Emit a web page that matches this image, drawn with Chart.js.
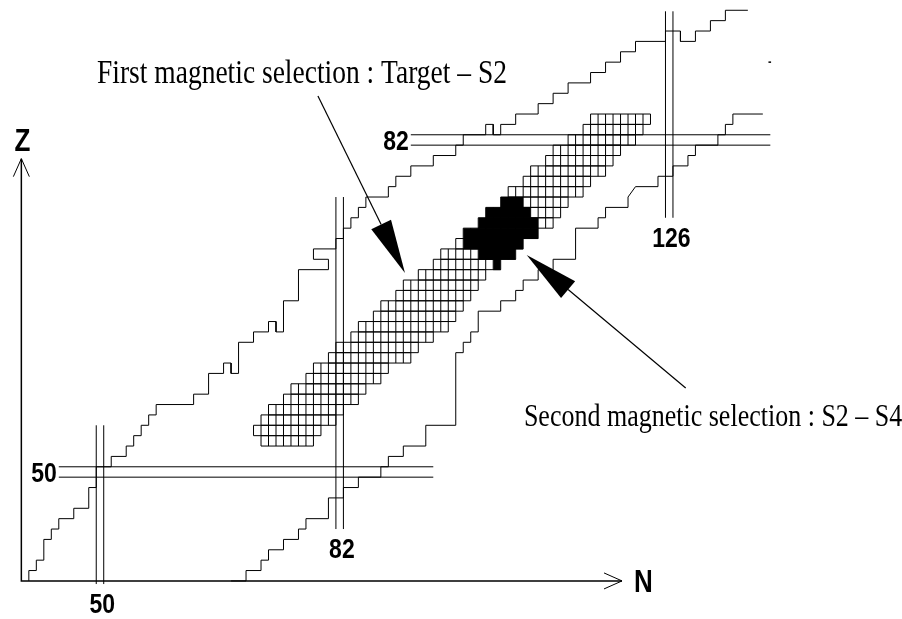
<!DOCTYPE html>
<html>
<head>
<meta charset="utf-8">
<title>Magnetic selections on the N-Z chart</title>
<script src="https://cdn.jsdelivr.net/npm/chart.js@4.4.0/dist/chart.umd.min.js"></script>
<style>
  html, body { margin: 0; padding: 0; background: #fff; }
</style>
</head>
<body>
<canvas id="myChart" width="902" height="619"></canvas>
<script>
// corner points [N, Z] of the two staircase limits
const upperLimit = [
    [40.5, 39.5], [40.5, 40.5], [41.5, 40.5], [41.5, 41.5], [42.5, 41.5], [42.5, 43.5],
    [43.5, 43.5], [43.5, 44.5], [44.5, 44.5], [44.5, 45.5], [46.5, 45.5], [46.5, 46.5],
    [48.5, 46.5], [48.5, 48.5], [49.5, 48.5], [49.5, 50.5], [51.5, 50.5], [51.5, 51.5],
    [53.5, 51.5], [53.5, 52.5], [54.5, 52.5], [54.5, 53.5], [55.5, 53.5], [55.5, 54.5],
    [56.5, 54.5], [56.5, 55.5], [57.5, 55.5], [57.5, 56.5], [62.5, 56.5], [62.5, 57.5],
    [64.5, 57.5], [64.5, 59.5], [66.5, 59.5], [66.5, 60.5], [67.5, 60.5], [67.5, 59.5],
    [68.5, 59.5], [68.5, 62.5], [70.5, 62.5], [70.5, 63.5], [72.5, 63.5], [72.5, 64.5],
    [73.5, 64.5], [73.5, 63.5], [74.5, 63.5], [74.5, 66.5], [76.5, 66.5], [76.5, 69.5],
    [80.5, 69.5], [80.5, 70.5], [78.5, 70.5], [78.5, 71.5], [81.5, 71.5], [81.5, 72.5],
    [82.5, 72.5], [82.5, 73.5], [83.5, 73.5], [83.5, 74.5], [84.5, 74.5], [84.5, 75.5],
    [85.5, 75.5], [85.5, 76.5], [88.5, 76.5], [88.5, 77.5], [89.5, 77.5], [89.5, 78.5],
    [91.5, 78.5], [91.5, 79.5], [94.5, 79.5], [94.5, 80.5], [97.5, 80.5], [97.5, 81.5],
    [98.5, 81.5], [98.5, 82.5], [101.5, 82.5], [101.5, 83.5], [102.5, 83.5], [102.5, 82.5],
    [103.5, 82.5], [103.5, 83.5], [105.5, 83.5], [105.5, 84.5], [108.5, 84.5], [108.5, 85.5],
    [110.5, 85.5], [110.5, 86.5], [112.5, 86.5], [112.5, 87.5], [115.5, 87.5], [115.5, 88.5],
    [117.5, 88.5], [117.5, 89.5], [119.5, 89.5], [119.5, 90.5], [121.5, 90.5], [121.5, 91.5],
    [125.5, 91.5], [125.5, 92.5], [127.5, 92.5], [127.5, 91.5], [129.5, 91.5], [129.5, 92.5],
    [131.5, 92.5], [131.5, 93.5], [133.5, 93.5], [133.5, 94.5], [136.5, 94.5]
];

const lowerLimit = [
    [67.5, 39.5], [69.5, 39.5], [69.5, 40.5], [71.5, 40.5], [71.5, 41.5], [72.5, 41.5],
    [72.5, 42.5], [74.5, 42.5], [74.5, 43.5], [76.5, 43.5], [76.5, 44.5], [77.5, 44.5],
    [77.5, 45.5], [80.5, 45.5], [80.5, 47.5], [82.5, 47.5], [82.5, 48.5], [84.5, 48.5],
    [84.5, 49.5], [87.5, 49.5], [87.5, 50.5], [88.5, 50.5], [88.5, 51.5], [90.5, 51.5],
    [90.5, 52.5], [93.5, 52.5], [93.5, 54.5], [97.5, 54.5], [97.5, 61.5], [98.5, 61.5],
    [98.5, 62.5], [99.5, 62.5], [99.5, 63.5], [100.5, 63.5], [100.5, 65.5], [103.5, 65.5],
    [103.5, 66.5], [105.5, 66.5], [105.5, 67.5], [106.5, 67.5], [106.5, 68.5], [108.5, 68.5],
    [108.5, 69.5], [110.5, 69.5], [110.5, 70.5], [113.5, 70.5], [113.5, 73.5], [116.5, 73.5],
    [116.5, 74.5], [117.5, 74.5], [117.5, 75.5], [120.5, 75.5], [120.5, 76.5], [121.5, 77.5],
    [124.5, 77.5], [124.5, 78.5], [126.5, 78.5], [126.5, 79.5], [128.5, 79.5], [128.5, 80.5],
    [129.5, 80.5], [129.5, 81.5], [132.5, 81.5], [132.5, 82.5], [133.5, 82.5], [133.5, 83.5],
    [134.5, 83.5], [134.5, 84.5], [138.5, 84.5]
];

// short stray mark at the far right of the upper limit
const strayMark = [[139.25, 89.5], [139.6, 89.5]];

// first magnetic selection (Target - S2): [Z, first N, last N]
const firstSelection = [
    [53, 72, 78], [54, 71, 79], [55, 72, 81], [56, 73, 82], [57, 75, 84], [58, 76, 85],
    [59, 78, 87], [60, 79, 88], [61, 81, 91], [62, 82, 92], [63, 84, 94], [64, 85, 96],
    [65, 87, 97], [66, 88, 98], [67, 90, 99], [68, 91, 100], [69, 93, 101], [70, 95, 103],
    [71, 96, 105], [72, 98, 106], [73, 99, 108], [74, 101, 110], [75, 102, 111], [76, 104, 112],
    [77, 105, 114], [78, 107, 115], [79, 108, 117], [80, 110, 118], [81, 111, 119], [82, 113, 121],
    [83, 115, 122], [84, 116, 123]
];

// second magnetic selection (S2 - S4): [Z, first N, last N]
const secondSelection = [
    [70, 103, 103], [71, 101, 105], [72, 99, 106], [73, 99, 108], [74, 101, 108],
    [75, 102, 107], [76, 104, 106]
];

// magic numbers and the extent of their double lines
const magicN = [50, 82, 126];
const magicNSpan = [[39.2, 54.5], [44.5, 76.5], [74.5, 94.4]];
const magicZ = [50, 82];
const magicZSpan = [[44.5, 94.5], [91.5, 139.5]];

const toPoints = pairs => pairs.map(p => ({x: p[0], y: p[1]}));
const gap = () => ({x: NaN, y: null});

// outline of every cell of a selection, as one broken line
const cellGrid = rows => {
    const pts = [];
    rows.forEach(r => {
        const z = r[0], n0 = r[1] - 0.5, n1 = r[2] + 0.5;
        pts.push({x: n0, y: z - 0.5}, {x: n1, y: z - 0.5}, gap());
        pts.push({x: n0, y: z + 0.5}, {x: n1, y: z + 0.5}, gap());
        for (let n = n0; n <= n1 + 0.01; n++) {
            pts.push({x: n, y: z - 0.5}, {x: n, y: z + 0.5}, gap());
        }
    });
    return pts;
};

const doubleLines = (values, spans, vertical) => {
    const pts = [];
    values.forEach((v, i) => {
        [v - 0.5, v + 0.5].forEach(w => {
            if (vertical) pts.push({x: w, y: spans[i][0]}, {x: w, y: spans[i][1]}, gap());
            else pts.push({x: spans[i][0], y: w}, {x: spans[i][1], y: w}, gap());
        });
    });
    return pts;
};

const lineStyle = {borderColor: '#000', borderWidth: 1, pointRadius: 0, fill: false, order: 3};

const datasets = [
    {label: 'upper limit', data: toPoints(upperLimit), ...lineStyle},
    {label: 'lower limit', data: toPoints(lowerLimit), ...lineStyle},
    {label: 'mark', data: toPoints(strayMark), ...lineStyle, borderWidth: 1.5},
    {label: 'magic N', data: doubleLines(magicN, magicNSpan, true), ...lineStyle},
    {label: 'magic Z', data: doubleLines(magicZ, magicZSpan, false), ...lineStyle},
    {label: 'Target - S2', data: cellGrid(firstSelection), ...lineStyle, order: 2}
];

secondSelection.forEach(r => {
    datasets.push({
        label: 'S2 - S4',
        data: [{x: r[1] - 0.5, y: r[0] - 0.5}, {x: r[2] + 0.5, y: r[0] - 0.5}],
        borderColor: '#000',
        borderWidth: 1,
        backgroundColor: '#000',
        pointRadius: 0,
        fill: {value: r[0] + 0.5},
        order: 1
    });
});

// texts, arrows and axes drawn on top, placed through the scales
const annotate = {
    id: 'annotate',
    afterDatasetsDraw(chart, args, opts) {
        const c = chart.ctx;
        const px = n => chart.scales.x.getPixelForValue(n);
        const py = z => chart.scales.y.getPixelForValue(z);

        const text = (s, x, y, font, align) => {
            c.save();
            c.font = font;
            c.textAlign = align;
            c.textBaseline = 'alphabetic';
            c.fillStyle = '#000';
            c.translate(x, y);
            c.scale(1, opts.stretch);
            c.fillText(s, 0, 0);
            c.restore();
        };

        c.save();
        c.strokeStyle = '#000';
        c.fillStyle = '#000';

        // axes with open heads
        const o = opts.origin;
        c.lineWidth = 1.5;
        c.beginPath();
        c.moveTo(px(o[0]), py(opts.zEnd));
        c.lineTo(px(o[0]), py(o[1]));
        c.lineTo(px(opts.nEnd), py(o[1]));
        c.stroke();
        c.lineWidth = 1;
        c.beginPath();
        c.moveTo(px(o[0]) - 8, py(opts.zEnd) + 18);
        c.lineTo(px(o[0]), py(opts.zEnd));
        c.lineTo(px(o[0]) + 8, py(opts.zEnd) + 18);
        c.moveTo(px(opts.nEnd) - 18, py(o[1]) - 8);
        c.lineTo(px(opts.nEnd), py(o[1]));
        c.lineTo(px(opts.nEnd) - 18, py(o[1]) + 8);
        c.stroke();

        // arrows with filled heads
        opts.arrows.forEach(a => {
            const x0 = px(a.from[0]), y0 = py(a.from[1]);
            const x1 = px(a.to[0]), y1 = py(a.to[1]);
            const ang = Math.atan2(y1 - y0, x1 - x0);
            const bx = x1 - 54 * Math.cos(ang), by = y1 - 54 * Math.sin(ang);
            c.lineWidth = 1.2;
            c.beginPath();
            c.moveTo(x0, y0);
            c.lineTo(bx, by);
            c.stroke();
            c.beginPath();
            c.moveTo(x1, y1);
            c.lineTo(bx + 11 * Math.sin(ang), by - 11 * Math.cos(ang));
            c.lineTo(bx - 11 * Math.sin(ang), by + 11 * Math.cos(ang));
            c.closePath();
            c.fill();
        });
        c.restore();

        // magic number labels
        const bold = 'bold 23px "Liberation Sans", Arial, sans-serif';
        magicN.forEach((v, i) => text(String(v), px(v + 0.3), py(magicNSpan[i][0]) + 29, bold, 'center'));
        magicZ.forEach((v, i) => text(String(v), px(magicZSpan[i][0]) - 2, py(v) + 10, bold, 'right'));

        // axis titles
        const big = 'bold 26px "Liberation Sans", Arial, sans-serif';
        text('Z', px(opts.origin[0]) + 1, py(opts.zEnd) - 8, big, 'center');
        text('N', px(opts.nEnd) + 12, py(opts.origin[1]) + 11, big, 'left');

        opts.notes.forEach(t => text(t.text, px(t.at[0]), py(t.at[1]), t.font, 'left'));
    }
};

new Chart(document.getElementById('myChart').getContext('2d'), {
    type: 'line',
    data: {datasets: datasets},
    options: {
        responsive: false,
        animation: false,
        events: [],
        layout: {padding: 0},
        elements: {line: {tension: 0}, point: {radius: 0}},
        scales: {
            x: {type: 'linear', min: 36.65, max: 157.08, display: false},
            y: {type: 'linear', min: 35.83, max: 95.49, display: false}
        },
        plugins: {
            legend: {display: false},
            tooltip: {enabled: false},
            annotate: {
                stretch: 1.2,
                origin: [39.5, 39.5],
                nEnd: 119.7,
                zEnd: 80.2,
                arrows: [
                    {from: [79.1, 86.24], to: [90.72, 69.18]},
                    {from: [128.2, 58.1], to: [106.97, 70.92]}
                ],
                notes: [
                    {text: 'First magnetic selection : Target \u2013 S2', at: [49.6, 87.5],
                     font: '27.5px "Liberation Serif", "Times New Roman", serif'},
                    {text: 'Second magnetic selection : S2 \u2013 S4', at: [106.6, 54.43],
                     font: '26px "Liberation Serif", "Times New Roman", serif'}
                ]
            }
        }
    },
    plugins: [annotate]
});
</script>
</body>
</html>
